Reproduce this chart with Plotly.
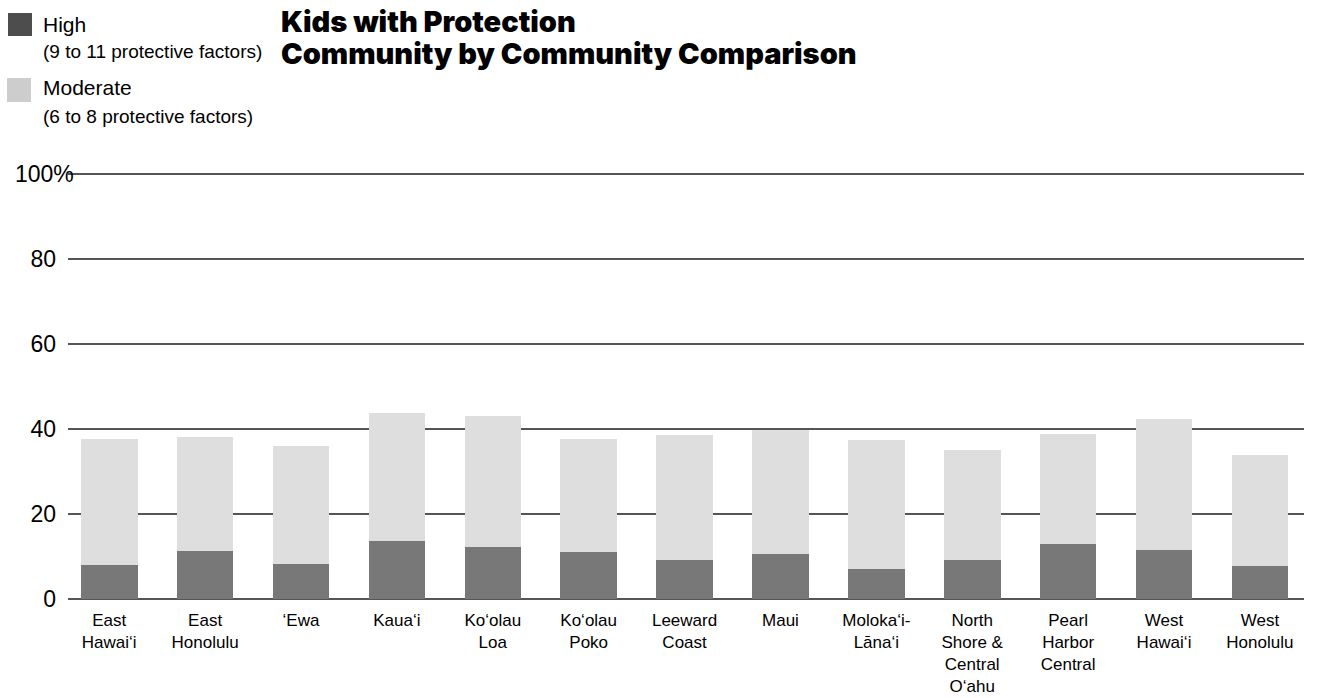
import plotly.graph_objects as go

categories = ["East Hawai‘i", "East Honolulu", "‘Ewa", "Kaua‘i", "Ko‘olau Loa",
              "Ko‘olau Poko", "Leeward Coast", "Maui", "Moloka‘i-Lāna‘i",
              "North Shore & Central O‘ahu", "Pearl Harbor Central",
              "West Hawai‘i", "West Honolulu"]
tick_labels = ["East<br>Hawai‘i", "East<br>Honolulu", "‘Ewa", "Kaua‘i", "Ko‘olau<br>Loa",
               "Ko‘olau<br>Poko", "Leeward<br>Coast", "Maui", "Moloka‘i-<br>Lāna‘i",
               "North<br>Shore &amp;<br>Central<br>O‘ahu", "Pearl<br>Harbor<br>Central",
               "West<br>Hawai‘i", "West<br>Honolulu"]
high = [8.1, 11.2, 8.2, 13.7, 12.3, 11.1, 9.2, 10.5, 7.1, 9.2, 12.9, 11.6, 7.8]
moderate = [29.5, 27.0, 27.7, 30.1, 30.8, 26.5, 29.5, 29.2, 30.2, 25.8, 25.9, 30.8, 26.2]
y_ticks = [0, 20, 40, 60, 80, 100]
y_tick_text = ["0", "20", "40", "60", "80", ""]

W, H = 1318, 698
L, R, T, B = 68, 14, 172, 99
PW, PH = W - L - R, H - T - B


def px(x):
    return (x - L) / PW


def py(y):
    return (H - B - y) / PH


FONT = "Liberation Sans, Arial, sans-serif"
TITLE_FONT = "Inter, DejaVu Sans, sans-serif"

fig = go.Figure()
fig.add_trace(go.Bar(x=categories, y=high, name="High",
                     marker=dict(color="#787878", line=dict(width=0)), showlegend=False))
fig.add_trace(go.Bar(x=categories, y=moderate, name="Moderate",
                     marker=dict(color="#dedede", line=dict(width=0)), showlegend=False))

fig.update_layout(
    width=W, height=H, barmode="stack", bargap=0.41,
    margin=dict(l=L, r=R, t=T, b=B),
    paper_bgcolor="white", plot_bgcolor="white",
    font=dict(family=FONT, color="black"),
    xaxis=dict(range=[-0.43, 12.46], tickmode="array", tickvals=categories,
               ticktext=tick_labels, tickfont=dict(size=17, family=FONT),
               showgrid=False, showline=False, zeroline=False, ticks="",
               ticklabelstandoff=9, automargin=False, fixedrange=True),
    yaxis=dict(range=[0, 100.47], tickvals=y_ticks, ticktext=y_tick_text,
               tickfont=dict(size=23, family=FONT), showgrid=True,
               gridcolor="#555555", gridwidth=1.5, zeroline=True,
               zerolinecolor="#555555", zerolinewidth=1.5, showline=False,
               ticks="", ticklabelstandoff=11, automargin=False, fixedrange=True),
)

# 100% label
fig.add_annotation(x=px(13), xref="paper", y=100, yref="y", text="100%",
                   showarrow=False, xanchor="left", yanchor="middle",
                   font=dict(size=23, family=FONT, color="black"))

# Title (two lines)
for txt, yc in [("Kids with Protection", 21), ("Community by Community Comparison", 54)]:
    fig.add_annotation(x=px(279), xref="paper", y=py(yc), yref="paper", text=txt,
                       showarrow=False, xanchor="left", yanchor="middle", align="left",
                       font=dict(size=29, family=TITLE_FONT, color="black", weight=900))

# Legend
fig.add_shape(type="rect", xref="paper", yref="paper", x0=px(8), x1=px(32),
              y0=py(13), y1=py(36), fillcolor="#4d4d4d", line=dict(width=0))
fig.add_shape(type="rect", xref="paper", yref="paper", x0=px(7), x1=px(31),
              y0=py(78), y1=py(102), fillcolor="#cdcdcd", line=dict(width=0))
legend_text = [("High", 24, 21), ("(9 to 11 protective factors)", 52, 19),
               ("Moderate", 87, 21), ("(6 to 8 protective factors)", 116, 19)]
for txt, yc, sz in legend_text:
    fig.add_annotation(x=px(41), xref="paper", y=py(yc), yref="paper", text=txt,
                       showarrow=False, xanchor="left", yanchor="middle",
                       font=dict(size=sz, family=FONT, color="black"))

fig.write_html("out.html")
